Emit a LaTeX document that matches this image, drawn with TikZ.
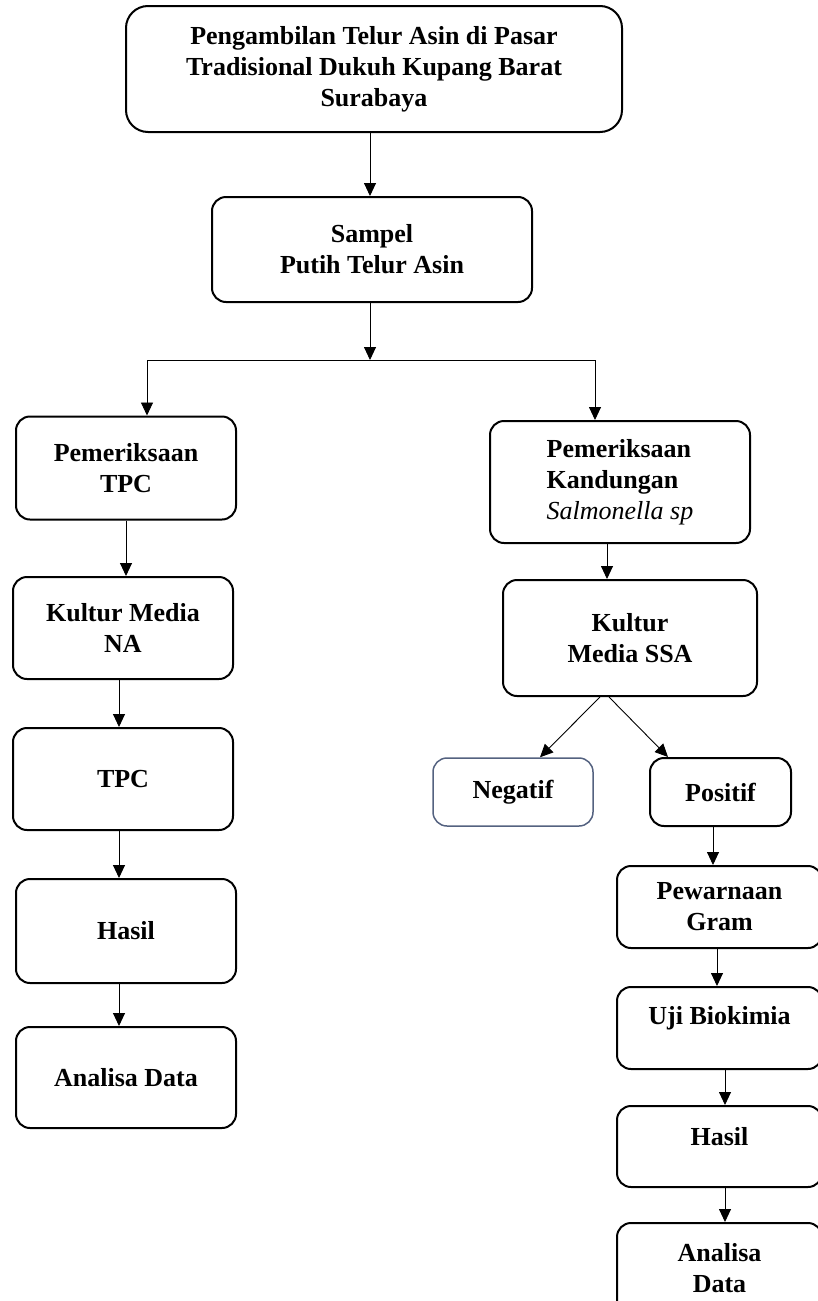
\documentclass[tikz,border=0pt]{standalone}
\usepackage{fontspec}
\setmainfont{Liberation Serif}
\usetikzlibrary{arrows.meta}

\definecolor{negblue}{RGB}{84,98,128}

\tikzset{
  box/.style={draw, line width=2pt, rounded corners=14pt, align=center,
    inner sep=0pt, font=\fontsize{26}{31}\selectfont\bfseries},
  arr/.style={-{Triangle[length=13pt,width=12pt]}, line width=0.9pt},
}

\begin{document}
\begin{tikzpicture}[x=1pt,y=-1pt]
  \useasboundingbox (0,0) rectangle (818,1301);
  % trunk
  \node[box, rounded corners=22pt, minimum width=496pt, minimum height=126pt] (ambil) at (374,69)
    {Pengambilan Telur Asin di Pasar\\Tradisional Dukuh Kupang Barat\\Surabaya};
  \node[box, minimum width=320pt, minimum height=105pt] (sampel) at (372,249.5)
    {Sampel\\Putih Telur Asin};
  \coordinate (split) at (370,360);
  % left branch
  \node[box, minimum width=220pt, minimum height=103pt] (pemTPC) at (126,468) {Pemeriksaan\\TPC};
  \node[box, minimum width=220pt, minimum height=102pt] (kulNA) at (123,628) {Kultur Media\\NA};
  \node[box, minimum width=220pt, minimum height=102pt] (tpc) at (123,779) {TPC};
  \node[box, minimum width=220pt, minimum height=104pt] (hasilA) at (126,931) {Hasil};
  \node[box, minimum width=220pt, minimum height=101pt] (anaA) at (126,1077.5) {Analisa Data};
  % right branch
  \node[box, align=left, minimum width=260pt, minimum height=122pt] (pemSal) at (620,482)
    {Pemeriksaan\\Kandungan\\{\mdseries\itshape Salmonella sp}};
  \node[box, minimum width=254pt, minimum height=116pt] (kulSSA) at (630,638) {Kultur\\Media SSA};
  \node[box, draw=negblue, line width=1.5pt, minimum width=160pt, minimum height=68pt] (neg) at (513,792) {Negatif};
  \node[box, minimum width=141pt, minimum height=68pt] (pos) at (720.5,792) {Positif};
  \node[box, minimum width=205pt, minimum height=82pt] (pew) at (719.5,907) {Pewarnaan\\Gram};
  \node[box, text depth=25pt, minimum width=205pt, minimum height=82pt] (uji) at (719.5,1028) {Uji Biokimia};
  \node[box, text depth=20pt, minimum width=205pt, minimum height=81pt] (hasilB) at (719.5,1146.5) {Hasil};
  \node[box, minimum width=205pt, minimum height=90pt] (anaB) at (719.5,1268) {Analisa\\Data};

  \draw[arr] (ambil.south -| split) -- (sampel.north -| split);
  \draw[arr] (sampel.south -| split) -- (split);
  \draw[arr] (split) -| ([xshift=21pt]pemTPC.north);
  \draw[arr] (split) -| ([xshift=-25pt]pemSal.north);

  \draw[arr] (pemTPC.south) -- (pemTPC.south |- kulNA.north);
  \draw[arr] ([xshift=-4pt]kulNA.south) -- ([xshift=-4pt]tpc.north);
  \draw[arr] ([xshift=-4pt]tpc.south) -- ([xshift=-7pt]hasilA.north);
  \draw[arr] ([xshift=-7pt]hasilA.south) -- ([xshift=-7pt]anaA.north);

  \draw[arr] ([xshift=-13pt]pemSal.south) -- ([xshift=-23pt]kulSSA.north);
  \draw[arr] ([xshift=-30pt]kulSSA.south) -- ([xshift=27pt]neg.north);
  \draw[arr] ([xshift=-21pt]kulSSA.south) -- ([xshift=-52.5pt]pos.north);
  \draw[arr] ([xshift=-7.5pt]pos.south) -- ([xshift=-6.5pt]pew.north);
  \draw[arr] ([xshift=-2.5pt]pew.south) -- ([xshift=-2.5pt]uji.north);
  \draw[arr] ([xshift=5.5pt]uji.south) -- ([xshift=5.5pt]hasilB.north);
  \draw[arr] ([xshift=5.5pt]hasilB.south) -- ([xshift=5.5pt]anaB.north);
\end{tikzpicture}
\end{document}
